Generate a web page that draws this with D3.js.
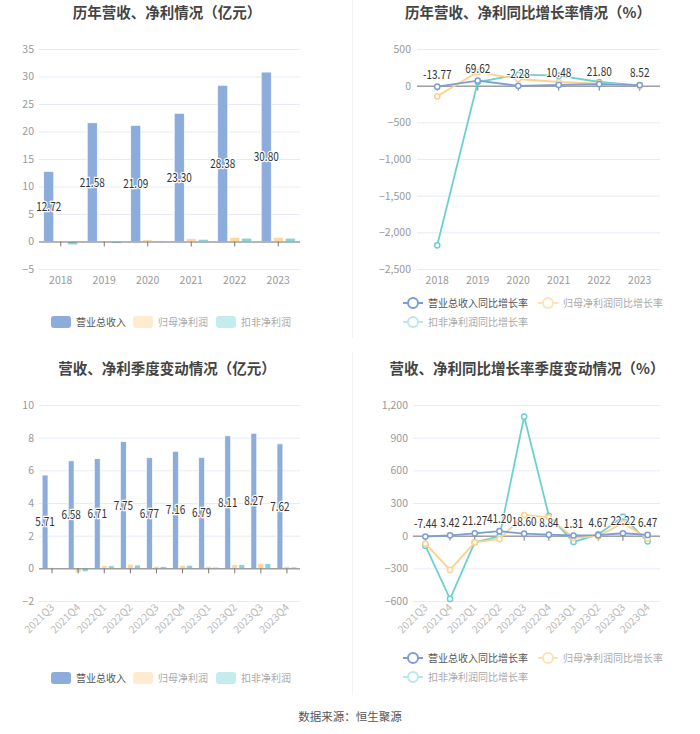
<!DOCTYPE html>
<html><head><meta charset="utf-8">
<script src="https://cdn.jsdelivr.net/npm/d3@7/dist/d3.min.js"></script>
<style>body{margin:0;background:#fff;}svg{display:block;font-family:"Noto Sans CJK SC","Noto Sans",sans-serif;}</style>
</head><body>
<svg id="c" width="700" height="734"></svg>
<script>
// ---- data ----
const years = ["2018","2019","2020","2021","2022","2023"];
const revYear = [12.72,21.58,21.09,23.30,28.38,30.80];
const netYear = [-0.20,0.10,0.30,0.50,0.70,0.75];
const deductYear = [-0.60,-0.30,0.10,0.40,0.60,0.60];
const revGrowthYear = [-13.77,69.62,-2.28,10.48,21.80,8.52];
const netGrowthYear = [-145,186,91,50,27,5];
const deductGrowthYear = [-2177,50,150,136,50,5];

const quarters = ["2021Q3","2021Q4","2022Q1","2022Q2","2022Q3","2022Q4","2023Q1","2023Q2","2023Q3","2023Q4"];
const revQ = [5.71,6.58,6.71,7.75,6.77,7.16,6.79,8.11,8.27,7.62];
const netQ = [0.05,-0.25,0.18,0.25,0.12,0.18,0.12,0.22,0.30,0.12];
const deductQ = [0.02,-0.20,0.15,0.20,0.10,0.18,0.07,0.22,0.28,0.08];
const revGrowthQ = [-7.44,3.42,21.27,41.20,18.60,8.84,1.31,4.67,22.22,6.47];
const netGrowthQ = [-73,-315,-61,-30,190,168,-20,-5,116,-25];
const deductGrowthQ = [-92,-581,-61,-6,1094,183,-58,12,174,-52];

const barTicks1 = [-5,0,5,10,15,20,25,30,35];
const barTicks3 = [-2,0,2,4,6,8,10];
const lineTicks2 = [-2500,-2000,-1500,-1000,-500,0,500];
const lineTicks4 = [-600,-300,0,300,600,900,1200];

const barNames = ["营业总收入","归母净利润","扣非净利润"];
const lineNames = ["营业总收入同比增长率","归母净利润同比增长率","扣非净利润同比增长率"];
const barColors = ["#8caddc","#fdd79c","#82d5d6"];
const barLegendColors = ["#8caddc","#ffecd0","#c4ecec"];
const lineColors = ["#7d9dd7","#fdd08c","#6dd0d0"];
const lineLegendColors = ["#7d9dd7","#ffe2b5","#b8e8e8"];
const legendText = ["#555","#aaa","#aaa"];

const svg = d3.select("#c");

// titles
function title(t, x, y){
  svg.append("text").attr("x",x).attr("y",y).attr("text-anchor","middle")
    .attr("font-size",14.5).attr("font-weight","bold").attr("fill","#444").text(t);
}
title("历年营收、净利情况（亿元）",167,18);
title("历年营收、净利同比增长率情况（%）",528,18);
title("营收、净利季度变动情况（亿元）",167,374);
title("营收、净利同比增长率季度变动情况（%）",527,374);

// separators
svg.append("line").attr("x1",352.5).attr("x2",352.5).attr("y1",0).attr("y2",338).attr("stroke","#f2f2f2");
svg.append("line").attr("x1",352.5).attr("x2",352.5).attr("y1",352).attr("y2",695).attr("stroke","#f2f2f2");

function grid(g, y, ticks, x0, x1, fmt, labelX){
  ticks.forEach(t=>{
    g.append("line").attr("x1",x0).attr("x2",x1).attr("y1",y(t)+0.5).attr("y2",y(t)+0.5)
      .attr("stroke","#e6ebf5").attr("stroke-width",1);
  });
  const ax = g.append("g").attr("transform",`translate(${labelX},0)`)
    .call(d3.axisLeft(y).tickValues(ticks).tickFormat(fmt).tickSize(0).tickPadding(0));
  ax.select(".domain").remove();
  ax.selectAll("text").attr("fill","#999").attr("font-size",10.5).attr("font-family",'"Noto Sans CJK SC",sans-serif');
}

function xAxis(g, x, cats, y0, x0, x1, labelY, rotate){
  g.append("line").attr("x1",x0).attr("x2",x1).attr("y1",y0+0.5).attr("y2",y0+0.5).attr("stroke","#777");
  cats.forEach(c=>{
    const cx = x(c)+x.bandwidth()/2;
    g.append("line").attr("x1",cx).attr("x2",cx).attr("y1",y0).attr("y2",y0+5).attr("stroke","#777");
    if(rotate){
      g.append("text").attr("transform",`translate(${cx+3},${labelY}) rotate(-45)`)
        .attr("text-anchor","end").attr("font-size",10.5).attr("fill","#bbb").text(c);
    } else {
      g.append("text").attr("x",cx).attr("y",labelY).attr("text-anchor","middle")
        .attr("font-size",10.5).attr("fill","#999").text(c);
    }
  });
}

function numLabel(g, x, y, txt, halo){
  g.append("text").attr("transform",`translate(${x},${y}) scale(0.8,1)`)
    .attr("text-anchor","middle").attr("font-size",12.5).attr("fill","#333")
    .attr("stroke","#fff").attr("stroke-width",halo).attr("paint-order","stroke")
    .text(txt);
}

function barPanel(cats, series, ticks, x0, x1, yTop, yBot, barW, step, labelX, xLabelY, rotate, legendY){
  const g = svg.append("g");
  const x = d3.scaleBand().domain(cats).range([x0,x1]);
  const y = d3.scaleLinear().domain([ticks[0],ticks[ticks.length-1]]).range([yBot,yTop]);
  grid(g,y,ticks,x0,x1,d3.format("d"),labelX);
  series.forEach((s,si)=>{
    g.selectAll(null).data(s).enter().append("rect")
      .attr("x",(d,i)=>x(cats[i])+x.bandwidth()/2+(si-1)*step-barW/2)
      .attr("y",d=>Math.min(y(d),y(0)))
      .attr("width",barW)
      .attr("height",d=>Math.abs(y(d)-y(0)))
      .attr("fill",barColors[si]).attr("stroke","#fff").attr("stroke-width",0.6);
  });
  xAxis(g,x,cats,y(0),x0,x1,xLabelY,rotate);
  const lg = g.append("g");
  series[0].forEach((d,i)=>{
    numLabel(lg, x(cats[i])+x.bandwidth()/2-step, (y(d)+y(0))/2+4.5, d.toFixed(2), 2.5);
  });
  // legend
  const lx = [51,133,216];
  barNames.forEach((n,i)=>{
    g.append("rect").attr("x",lx[i]).attr("y",legendY-6).attr("width",20).attr("height",12).attr("rx",3)
      .attr("fill",barLegendColors[i]);
    g.append("text").attr("x",lx[i]+25).attr("y",legendY+4).attr("font-size",10).attr("fill",legendText[i]).text(n);
  });
}

function linePanel(cats, series, ticks, x0, x1, yTop, yBot, labelX, xLabelY, rotate, legendY){
  const g = svg.append("g");
  const x = d3.scaleBand().domain(cats).range([x0,x1]);
  const y = d3.scaleLinear().domain([ticks[0],ticks[ticks.length-1]]).range([yBot,yTop]);
  grid(g,y,ticks,x0,x1,d3.format(","),labelX);
  xAxis(g,x,cats,y(0),x0,x1,xLabelY,rotate);
  const cx = (i)=>x(cats[i])+x.bandwidth()/2;
  [2,1,0].forEach(si=>{
    const s = series[si];
    const line = d3.line().x((d,i)=>cx(i)).y(d=>y(d));
    g.append("path").datum(s).attr("d",line).attr("fill","none").attr("stroke",lineColors[si]).attr("stroke-width",1.8);
    g.selectAll(null).data(s).enter().append("circle").attr("cx",(d,i)=>cx(i)).attr("cy",d=>y(d)).attr("r",2.6)
      .attr("fill","#fff").attr("stroke",lineColors[si]).attr("stroke-width",1.5);
  });
  const lg = g.append("g");
  series[0].forEach((d,i)=>{ numLabel(lg, cx(i), y(d)-8, d.toFixed(2), 2); });
  // legend
  const pos = [[403,legendY],[538,legendY],[403,legendY+19]];
  lineNames.forEach((n,i)=>{
    const [px,py] = pos[i];
    g.append("line").attr("x1",px).attr("x2",px+20).attr("y1",py).attr("y2",py).attr("stroke",lineLegendColors[i]).attr("stroke-width",2);
    g.append("circle").attr("cx",px+10).attr("cy",py).attr("r",5).attr("fill","#fff").attr("stroke",lineLegendColors[i]).attr("stroke-width",2);
    g.append("text").attr("x",px+25).attr("y",py+4).attr("font-size",10).attr("fill",legendText[i]).text(n);
  });
}

barPanel(years,[revYear,netYear,deductYear],barTicks1,39,300,49,269,10,12,34,284,false,322);
barPanel(quarters,[revQ,netQ,deductQ],barTicks3,39,300,405,601,5.8,7,34,608,true,678);
linePanel(years,[revGrowthYear,netGrowthYear,deductGrowthYear],lineTicks2,417,660,49,269,411,284,false,303);
linePanel(quarters,[revGrowthQ,netGrowthQ,deductGrowthQ],lineTicks4,413,660,405,601,408,608,true,658);

svg.append("text").attr("x",350).attr("y",721).attr("text-anchor","middle").attr("font-size",11.5).attr("fill","#555").text("数据来源：恒生聚源");
</script>
</body></html>
